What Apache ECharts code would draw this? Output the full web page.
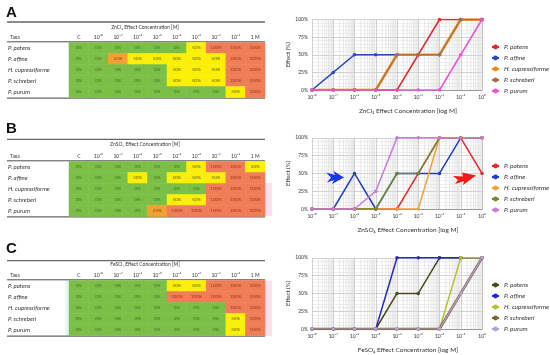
<!DOCTYPE html>
<html><head><meta charset="utf-8">
<script src="https://cdn.jsdelivr.net/npm/echarts@6/dist/echarts.min.js"></script>
<style>html,body{margin:0;padding:0;background:#fff}#c{width:550px;height:355px}</style>
</head><body><div id="c"></div>
<script>
// ---------- data ----------
const taxa = ['P. patens', 'P. affine', 'H. cupressiforme', 'P. schreberi', 'P. purum'];
const tableColumns = ['C', '10⁻⁸', '10⁻⁷', '10⁻⁶', '10⁻⁵', '10⁻⁴', '10⁻³', '10⁻²', '10⁻¹', '1 M'];
const exponents = [-8, -7, -6, -5, -4, -3, -2, -1, 0];
const xTickLabels = ['10⁻⁸', '10⁻⁷', '10⁻⁶', '10⁻⁵', '10⁻⁴', '10⁻³', '10⁻²', '10⁻¹', '10⁰'];
const panelLetters = ['A', 'B', 'C'];
const tableTitles = ['ZnCl₂ Effect Concentration [M]', 'ZnSO₄ Effect Concentration [M]', 'FeSO₄ Effect Concentration [M]'];
const chartAxisTitles = ['ZnCl₂ Effect Concentration [log M]', 'ZnSO₄ Effect Concentration [log M]', 'FeSO₄ Effect Concentration [log M]'];

// rows = taxa, columns = C, 10^-8 ... 10^-1, 1 M  (effect in %)
const zncl2Effects = [
  [0, 0, 0, 0, 0, 0, 50, 100, 100, 100],
  [0, 0, 25, 50, 50, 50, 50, 50, 100, 100],
  [0, 0, 0, 0, 0, 50, 50, 50, 100, 100],
  [0, 0, 0, 0, 0, 50, 50, 50, 100, 100],
  [0, 0, 0, 0, 0, 0, 0, 0, 50, 100]
];
const znso4Effects = [
  [0, 0, 0, 0, 0, 0, 50, 100, 100, 50],
  [0, 0, 0, 50, 0, 50, 50, 50, 100, 100],
  [0, 0, 0, 0, 0, 0, 0, 100, 100, 100],
  [0, 0, 0, 0, 0, 50, 50, 100, 100, 100],
  [0, 0, 0, 0, 25, 100, 100, 100, 100, 100]
];
const feso4Effects = [
  [0, 0, 0, 0, 0, 50, 50, 100, 100, 100],
  [0, 0, 0, 0, 0, 100, 100, 100, 100, 100],
  [0, 0, 0, 0, 0, 0, 0, 0, 100, 100],
  [0, 0, 0, 0, 0, 0, 0, 0, 50, 100],
  [0, 0, 0, 0, 0, 0, 0, 0, 50, 100]
];

// ---------- styles / layout ----------
const datasets = [zncl2Effects, znso4Effects, feso4Effects];
const lineColors = [
  ['#E02A2A', '#2A48B8', '#E8881A', '#A07050', '#F050D8'],
  ['#E82828', '#2040C0', '#F0A040', '#6E8B2E', '#C878E0'],
  ['#4A4A15', '#2828C8', '#B8C030', '#7A6535', '#B8A0E0']
];
const lineWidths = [
  [1.5, 1.5, 2.6, 1, 1.5],
  [1.5, 1.5, 1.5, 1.5, 1.5],
  [1.5, 1.5, 1.5, 2.6, 1.2]
];
const cellColors = {0: '#7BBF47', 25: '#F2A030', 50: '#FBEF08', 100: '#EF7D55'};
const cellTextColors = {0: '#4A7028', 25: '#7A4A10', 50: '#6A6A10', 100: '#9A3A28'};
const panels = [
  {letterY: 5, topLine: 22, title: 27, headerLine: 41.8, cellTop: 42.5, bottomLine: 98.2, chartTop: 19.5, chartH: 70.5, legendTop: 38.5},
  {letterY: 121, topLine: 139.3, title: 144.3, headerLine: 160.8, cellTop: 161.5, bottomLine: 216.8, chartTop: 137.8, chartH: 71.2, legendTop: 157.5},
  {letterY: 241, topLine: 260.7, title: 264.5, headerLine: 279.8, cellTop: 280.5, bottomLine: 336.2, chartTop: 257.8, chartH: 71.2, legendTop: 276.5}
];
const FONT = 'Lato, "Open Sans", "DejaVu Sans", sans-serif';
const TABLE_LEFT = 69, TABLE_W = 196, TABLE_H = 55;
const CHART_LEFT = 312, CHART_W = 170;

// log minor gridline positions (axis decoration)
const minorGrid = [];
for (let n = -8; n < 0; n++) for (let k = 2; k <= 9; k++) minorGrid.push([n + Math.log10(k), 0]);

const grid = [], xAxis = [], yAxis = [], series = [], legend = [], graphic = [], heatmapIdx = [];

panels.forEach((p, i) => {
  const tg = 2 * i, cg = 2 * i + 1;
  grid.push({left: TABLE_LEFT, top: p.cellTop, width: TABLE_W, height: TABLE_H});
  grid.push({left: CHART_LEFT, top: p.chartTop, width: CHART_W, height: p.chartH});

  xAxis.push({
    gridIndex: tg, type: 'category', data: tableColumns, position: 'top',
    axisLine: {show: false}, axisTick: {show: false}, splitLine: {show: false},
    axisLabel: {fontSize: 5, margin: 3, color: '#333', fontFamily: FONT, interval: 0}
  });
  yAxis.push({
    gridIndex: tg, type: 'category', data: taxa, inverse: true,
    axisLine: {show: false}, axisTick: {show: false}, splitLine: {show: false},
    axisLabel: {fontSize: 6, margin: 61, align: 'left', color: '#333', fontStyle: 'italic', fontFamily: FONT, interval: 0}
  });
  xAxis.push({
    gridIndex: cg, type: 'value', min: -8, max: 0, interval: 1,
    name: chartAxisTitles[i], nameLocation: 'middle', nameGap: 17,
    nameTextStyle: {fontSize: 6.5, color: '#333', fontFamily: FONT, padding: [0, 0, 0, 22]},
    axisLine: {show: true, lineStyle: {color: '#999', width: 1}},
    axisTick: {show: false},
    splitLine: {show: true, lineStyle: {color: '#c4c4c4', width: 0.8}},
    axisLabel: {fontSize: 5, margin: 5, color: '#333', fontFamily: FONT, formatter: v => xTickLabels[Math.round(v) + 8]}
  });
  yAxis.push({
    gridIndex: cg, type: 'value', min: 0, max: 100, interval: 25,
    name: 'Effect (%)', nameLocation: 'middle', nameGap: 20,
    nameTextStyle: {fontSize: 6, color: '#333', fontFamily: FONT},
    axisLine: {show: true, lineStyle: {color: '#bbb', width: 0.8}},
    axisTick: {show: false},
    splitLine: {show: true, lineStyle: {color: '#c4c4c4', width: 0.8}},
    minorTick: {show: false, splitNumber: 5},
    minorSplitLine: {show: true, lineStyle: {color: '#e6e6e6', width: 0.6}},
    axisLabel: {fontSize: 5, margin: 4, color: '#333', fontFamily: FONT, formatter: v => v + '%'}
  });

  const hm = [];
  datasets[i].forEach((row, r) => row.forEach((v, c) => hm.push({value: [c, r, v], label: {color: cellTextColors[v]}})));
  heatmapIdx.push(series.length);
  series.push({
    type: 'heatmap', xAxisIndex: tg, yAxisIndex: tg, data: hm,
    label: {show: true, fontSize: 4.5, fontFamily: FONT, formatter: q => q.value[2] + '%'},
    itemStyle: {borderWidth: 0}, emphasis: {disabled: true}, silent: true
  });

  series.push({
    type: 'custom', xAxisIndex: cg, yAxisIndex: cg, silent: true, z: 1, data: minorGrid,
    renderItem: (params, api) => {
      const a = api.coord([api.value(0), 0]), b = api.coord([api.value(0), 100]);
      return {type: 'line', shape: {x1: a[0], y1: a[1], x2: b[0], y2: b[1]}, style: {stroke: '#dcdcdc', lineWidth: 0.7}};
    }
  });

  const names = [];
  taxa.forEach((t, k) => {
    const nm = t + '\u200b'.repeat(i);
    names.push(nm);
    series.push({
      type: 'line', name: nm, xAxisIndex: cg, yAxisIndex: cg, z: 3,
      data: exponents.map((e, j) => [e, datasets[i][k][j + 1]]),
      symbol: 'circle', symbolSize: 3.5, showSymbol: true,
      lineStyle: {color: lineColors[i][k], width: lineWidths[i][k]},
      itemStyle: {color: lineColors[i][k]},
      emphasis: {disabled: true}, silent: true, animation: false
    });
  });
  legend.push({
    data: names, orient: 'vertical', left: 486, top: p.legendTop,
    itemWidth: 7, itemHeight: 6, itemGap: 4, selectedMode: false,
    formatter: n => n.replace(/\u200b/g, ''),
    textStyle: {fontSize: 6.5, fontStyle: 'italic', color: '#333', fontFamily: FONT}
  });

  // table decorations
  graphic.push({type: 'text', left: 6, top: p.letterY, style: {text: panelLetters[i], fontSize: 15, fontWeight: 'bold', fontFamily: '"Liberation Sans", Arial, sans-serif', fill: '#111'}});
  graphic.push({type: 'line', shape: {x1: 7, y1: p.topLine, x2: 265, y2: p.topLine}, style: {stroke: '#666', lineWidth: 1.3}});
  graphic.push({type: 'line', shape: {x1: 7, y1: p.headerLine, x2: 265, y2: p.headerLine}, style: {stroke: '#222', lineWidth: 0.8}});
  graphic.push({type: 'line', shape: {x1: 7, y1: p.bottomLine, x2: 265, y2: p.bottomLine}, style: {stroke: '#666', lineWidth: 1.3}});
  graphic.push({type: 'text', x: 145, y: p.title, style: {text: tableTitles[i], fontSize: 5, fill: '#333', fontFamily: FONT, textAlign: 'center', textVerticalAlign: 'middle'}});
  graphic.push({type: 'text', x: 10, y: p.headerLine - 4.5, style: {text: 'Taxa', fontSize: 5, fill: '#333', fontFamily: FONT, textAlign: 'left', textVerticalAlign: 'middle'}});
});

// pink / cyan tint strips at table edges and arrows in panel B
graphic.push({type: 'rect', shape: {x: 265, y: 183, width: 7, height: 33}, style: {fill: '#FBE0EE'}, z: -1});
graphic.push({type: 'rect', shape: {x: 265, y: 280.5, width: 7, height: 55.5}, style: {fill: '#FBE0EE'}, z: -1});
graphic.push({type: 'rect', shape: {x: 65, y: 280.5, width: 4, height: 55.5}, style: {fill: '#E4F6F8'}, z: -1});
graphic.push({type: 'polygon', shape: {points: [[326, 172.5], [335, 175], [333.5, 171], [344, 177.5], [332, 184], [334, 180], [327, 182.5], [331, 177.5]]}, style: {fill: '#1838E8'}, z: 10});
graphic.push({type: 'polygon', shape: {points: [[453, 176], [463, 176.5], [462, 172.5], [476, 175.5], [463, 185], [464, 181], [455, 184], [458, 180]]}, style: {fill: '#F01818'}, z: 10});

const chart = echarts.init(document.getElementById('c'));
chart.setOption({
  animation: false,
  backgroundColor: '#fff',
  grid, xAxis, yAxis, series, legend, graphic,
  visualMap: [{
    type: 'piecewise', show: false, seriesIndex: heatmapIdx, dimension: 2,
    pieces: [{value: 0, color: cellColors[0]}, {value: 25, color: cellColors[25]}, {value: 50, color: cellColors[50]}, {value: 100, color: cellColors[100]}]
  }]
});
</script>
</body></html>
